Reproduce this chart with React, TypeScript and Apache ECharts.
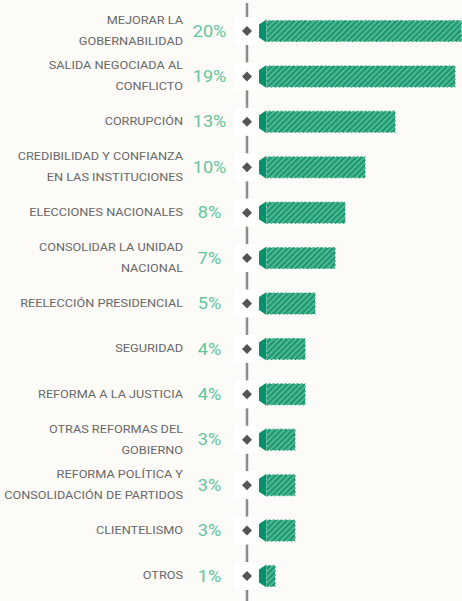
import React, { useEffect, useRef } from "react";
import * as echarts from "echarts";

const categories = [
  "MEJORAR LA\nGOBERNABILIDAD",
  "SALIDA NEGOCIADA AL\nCONFLICTO",
  "CORRUPCIÓN",
  "CREDIBILIDAD Y CONFIANZA\nEN LAS INSTITUCIONES",
  "ELECCIONES NACIONALES",
  "CONSOLIDAR LA UNIDAD\nNACIONAL",
  "REELECCIÓN PRESIDENCIAL",
  "SEGURIDAD",
  "REFORMA A LA JUSTICIA",
  "OTRAS REFORMAS DEL\nGOBIERNO",
  "REFORMA POLÍTICA Y\nCONSOLIDACIÓN DE PARTIDOS",
  "CLIENTELISMO",
  "OTROS",
];
const values = [20, 19, 13, 10, 8, 7, 5, 4, 4, 3, 3, 3, 1];

const BG = "#fcfbf7";

export default function App() {
  const ref = useRef<HTMLDivElement>(null);
  useEffect(() => {
    document.body.style.margin = "0";
    document.body.style.background = BG;
    const chart = echarts.init(ref.current!, null, { renderer: "svg" });
    chart.setOption({
      animation: false,
      backgroundColor: BG,
      grid: { left: 266, right: 0, top: 8.3, bottom: 2.3, containLabel: false },
      xAxis: { type: "value", min: 0, max: 19.6, show: false },
      yAxis: {
        type: "category",
        data: categories,
        inverse: true,
        axisLine: { show: false },
        axisTick: { show: false },
        axisLabel: { show: false },
      },
      graphic: [
        {
          type: "line",
          z: 0,
          shape: { x1: 247, y1: 3, x2: 247, y2: 601 },
          style: { stroke: "#8c8c8c", lineWidth: 2.5 },
        },
      ],
      series: [
        {
          type: "bar",
          data: values,
          barWidth: 23,
          z: 3,
          itemStyle: {
            color: "#1a9670",
            borderColor: "#ffffff",
            borderWidth: 1,
            borderType: [2, 2],
            decal: {
              symbol: "rect",
              symbolSize: 1,
              dashArrayX: [1, 0],
              dashArrayY: [2, 2],
              rotation: -Math.PI / 4,
              color: "#4fb893",
            },
          },
        },
        {
          type: "custom",
          z: 4,
          data: values.map((v, i) => [v, i]),
          renderItem: (params: any, api: any) => {
            const idx = api.value(1);
            const v = api.value(0);
            const p = api.coord([0, idx]);
            const x0 = p[0];
            const y = p[1];
            const h = 11.5;
            return {
              type: "group",
              children: [
                {
                  type: "rect",
                  shape: { x: x0 - 31, y: y - 14, width: 23, height: 28 },
                  style: { fill: "#ffffff" },
                },
                {
                  type: "polygon",
                  shape: {
                    points: [
                      [x0 - 19, y - 5],
                      [x0 - 14, y],
                      [x0 - 19, y + 5],
                      [x0 - 24, y],
                    ],
                  },
                  style: { fill: "#555555" },
                },
                {
                  type: "polygon",
                  shape: {
                    points: [
                      [x0 - 7, y - 6.5],
                      [x0 + 0.5, y - h],
                      [x0 + 0.5, y + h],
                      [x0 - 7, y + 6.5],
                    ],
                  },
                  style: { fill: "#08906a" },
                },
                {
                  type: "text",
                  x: x0 - 56.5,
                  y: y,
                  scaleX: 1.13,
                  style: {
                    x: 0,
                    y: 0,
                    text: v + "%",
                    align: "center",
                    verticalAlign: "middle",
                    fill: "#62c69e",
                    font: "16px Roboto",
                  },
                },
                {
                  type: "text",
                  x: x0 - 83,
                  y: y,
                  scaleX: 1.27,
                  style: {
                    x: 0,
                    y: 0,
                    text: categories[idx],
                    align: "right",
                    verticalAlign: "middle",
                    lineHeight: 21,
                    fill: "#686868",
                    font: "10px Roboto",
                  },
                },
              ],
            };
          },
        },
      ],
    });
    return () => chart.dispose();
  }, []);
  return <div ref={ref} style={{ width: 462, height: 601 }} />;
}
